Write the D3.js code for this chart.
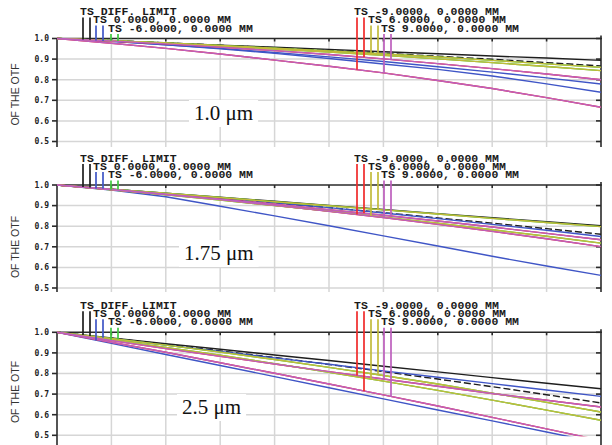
<!DOCTYPE html>
<html>
<head>
<meta charset="utf-8">
<script src="https://cdn.jsdelivr.net/npm/d3@7/dist/d3.min.js"></script>
<style>
  html, body { margin: 0; padding: 0; background: #fff; }
  svg { display: block; }
</style>
</head>
<body>
<svg id="chart" width="612" height="445"></svg>
<script>
// Field points of the MTF plots, in drawing order
const fieldNames = ["DIFF. LIMIT", "0.0000, 0.0000 MM", "-6.0000, 0.0000 MM",
                    "-9.0000, 0.0000 MM", "6.0000, 0.0000 MM", "9.0000, 0.0000 MM"];
const fieldColors = ["#1e1e1e", "#3f55c6", "#3fc83f", "#f02a2a", "#c2bb3a", "#bd5fbd"];
const sagDash = ["7,3", null, null, null, null, null];

// Spatial frequency samples (grid divisions) and modulus tick labels
const freqSteps = [0, 1, 2, 3, 4, 5, 6, 7, 8, 9, 10];
const modTicks = [0.5, 0.6, 0.7, 0.8, 0.9, 1.0];
const wavelengths = ["1.0 \u03bcm", "1.75 \u03bcm", "2.5 \u03bcm"];

// Modulus of the OTF, tangential and sagittal, one row per field
const tan10 = [
  [1, .989, .979, .968, .958, .947, .936, .926, .915, .905, .894],
  [1, .986, .969, .950, .928, .903, .876, .850, .818, .780, .739],
  [1, .989, .977, .963, .949, .934, .918, .901, .883, .864, .844],
  [1, .977, .952, .925, .895, .865, .833, .796, .757, .713, .666],
  [1, .989, .977, .963, .949, .934, .918, .901, .883, .864, .844],
  [1, .977, .952, .925, .895, .865, .833, .796, .757, .713, .666]
];
const sag10 = [
  [1, .990, .979, .967, .955, .942, .928, .914, .899, .883, .867],
  [1, .986, .970, .952, .932, .911, .888, .863, .837, .809, .779],
  [1, .989, .978, .966, .953, .939, .925, .910, .894, .877, .860],
  [1, .988, .974, .958, .941, .922, .901, .878, .854, .828, .800],
  [1, .989, .978, .966, .953, .939, .925, .910, .894, .877, .860],
  [1, .988, .974, .958, .941, .922, .901, .878, .854, .828, .800]
];
const tan175 = [
  [1, .980, .960, .941, .921, .901, .881, .861, .841, .822, .802],
  [1, .976, .943, .897, .850, .802, .753, .704, .654, .607, .561],
  [1, .977, .952, .927, .900, .873, .844, .814, .783, .751, .718],
  [1, .978, .954, .929, .901, .872, .842, .809, .775, .739, .701],
  [1, .977, .952, .927, .900, .873, .844, .814, .783, .751, .718],
  [1, .978, .954, .929, .901, .872, .842, .809, .775, .739, .701]
];
const sag175 = [
  [1, .979, .958, .936, .913, .890, .866, .840, .815, .788, .761],
  [1, .980, .959, .937, .914, .890, .864, .837, .809, .780, .750],
  [1, .980, .960, .939, .919, .899, .879, .859, .838, .818, .798],
  [1, .978, .955, .931, .907, .880, .853, .825, .796, .765, .734],
  [1, .980, .960, .939, .919, .899, .879, .859, .838, .818, .798],
  [1, .978, .955, .931, .907, .880, .853, .825, .796, .765, .734]
];
const tan25 = [
  [1, .973, .945, .918, .890, .863, .835, .808, .780, .753, .726],
  [1, .946, .892, .839, .785, .731, .677, .623, .570, .516, .462],
  [1, .964, .927, .889, .848, .806, .763, .718, .671, .622, .573],
  [1, .960, .921, .883, .846, .809, .773, .738, .703, .670, .637],
  [1, .964, .927, .889, .848, .806, .763, .718, .671, .622, .573],
  [1, .960, .921, .883, .846, .809, .773, .738, .703, .670, .637]
];
const sag25 = [
  [1, .971, .941, .910, .878, .844, .809, .773, .736, .697, .657],
  [1, .969, .938, .907, .876, .845, .813, .782, .751, .720, .689],
  [1, .970, .938, .904, .868, .830, .790, .749, .705, .660, .613],
  [1, .952, .903, .852, .801, .749, .696, .642, .587, .531, .475],
  [1, .970, .938, .904, .868, .830, .790, .749, .705, .660, .613],
  [1, .952, .903, .852, .801, .749, .696, .642, .587, .531, .475]
];

const panels = [
  { label: wavelengths[0], tan: tan10,  sag: sag10 },
  { label: wavelengths[1], tan: tan175, sag: sag175 },
  { label: wavelengths[2], tan: tan25,  sag: sag25 }
];

// Layout
const plotLeft = 57, plotRight = 601, plotH = 103;
const panelTop = [38.5, 185, 332.3];
const panelBottom = [147, 292, 445];
const labelPos = [[194, 120], [184, 260], [182, 414]];
const titleY = [94.5, 247, 392];
const legendX = [80, 93, 108, 354, 368, 381];
const legendRowDy = [-23.5, -15.5, -7];

const svg = d3.select("#chart");
svg.append("rect").attr("width", 612).attr("height", 445).attr("fill", "#fff");

const x = d3.scaleLinear().domain([0, 10]).range([plotLeft, plotRight]);

function valueAt(arr, u) {
  const i = Math.min(Math.floor(u), arr.length - 2);
  const t = u - i;
  return arr[i] + (arr[i + 1] - arr[i]) * t;
}

panels.forEach((p, pi) => {
  const top = panelTop[pi], bottom = panelBottom[pi];
  const y = d3.scaleLinear().domain([0.5, 1.0]).range([top + plotH, top]);
  const g = svg.append("g");

  const clipId = "clip" + pi;
  svg.append("clipPath").attr("id", clipId).append("rect")
    .attr("x", plotLeft).attr("y", top - 2)
    .attr("width", plotRight - plotLeft).attr("height", y(0.495) - top + 2);

  // grid
  const grid = g.append("g").attr("stroke", "#d6d6d6").attr("stroke-width", 1.5);
  grid.selectAll("line.v").data(freqSteps.slice(1, -1)).join("line")
    .attr("x1", d => x(d)).attr("x2", d => x(d))
    .attr("y1", top).attr("y2", bottom);
  grid.selectAll("line.h").data(modTicks.slice(0, -1)).join("line")
    .attr("x1", plotLeft).attr("x2", plotRight)
    .attr("y1", d => y(d)).attr("y2", d => y(d));

  // frame and ticks
  const frame = g.append("g").attr("stroke", "#2a2a2a").attr("stroke-width", 1.6);
  frame.append("line").attr("x1", plotLeft).attr("x2", plotRight + 1).attr("y1", top).attr("y2", top);
  frame.append("line").attr("x1", plotLeft).attr("x2", plotLeft).attr("y1", top).attr("y2", bottom);
  frame.append("line").attr("x1", plotRight).attr("x2", plotRight).attr("y1", top - 3).attr("y2", bottom);
  frame.selectAll("line.lt").data(modTicks).join("line")
    .attr("x1", plotLeft - 5).attr("x2", plotLeft)
    .attr("y1", d => y(d)).attr("y2", d => y(d));
  frame.selectAll("line.rt").data(modTicks).join("line")
    .attr("x1", plotRight - 5).attr("x2", plotRight)
    .attr("y1", d => y(d)).attr("y2", d => y(d));
  frame.selectAll("line.tt").data(freqSteps.slice(1, -1)).join("line")
    .attr("x1", d => x(d)).attr("x2", d => x(d))
    .attr("y1", top).attr("y2", top + 3);

  // tick labels
  g.selectAll("text.yl").data(modTicks).join("text")
    .attr("x", 49).attr("y", d => y(d)).attr("dy", "0.35em")
    .attr("text-anchor", "end")
    .attr("font-family", "DejaVu Sans Mono, monospace")
    .attr("font-weight", "bold").attr("font-size", 8)
    .attr("fill", "#222")
    .text(d => d.toFixed(1));

  // axis title
  g.append("text")
    .attr("transform", `translate(19,${titleY[pi]}) rotate(-90)`)
    .attr("text-anchor", "middle")
    .attr("font-family", "Liberation Sans, Arial, sans-serif")
    .attr("font-size", 10.5).attr("fill", "#333")
    .text("OF THE OTF");

  // curves
  const line = d3.line().x((d, i) => x(freqSteps[i])).y(d => y(d));
  const curves = g.append("g").attr("clip-path", `url(#${clipId})`).attr("fill", "none");
  fieldNames.forEach((f, fi) => {
    curves.append("path").attr("d", line(p.tan[fi]))
      .attr("stroke", fieldColors[fi]).attr("stroke-width", 1.4);
    curves.append("path").attr("d", line(p.sag[fi]))
      .attr("stroke", fieldColors[fi]).attr("stroke-width", 1.4)
      .attr("stroke-dasharray", sagDash[fi]);
  });

  // wavelength label on a white patch
  const lab = g.append("text")
    .attr("x", labelPos[pi][0]).attr("y", labelPos[pi][1])
    .attr("font-family", "Liberation Serif, Times New Roman, serif")
    .attr("font-size", 21).attr("fill", "#111")
    .text(p.label);
  const bb = lab.node().getBBox();
  g.insert("rect", () => lab.node())
    .attr("x", bb.x - 5).attr("y", labelPos[pi][1] - 20)
    .attr("width", bb.width + 10).attr("height", 27)
    .attr("fill", "#fff");

  // legend with T/S markers dropping to the curves
  fieldNames.forEach((f, fi) => {
    const tx = legendX[fi], ty = top + legendRowDy[fi % 3];
    g.append("text").attr("x", tx).attr("y", ty)
      .attr("font-family", "Liberation Mono, monospace")
      .attr("font-weight", "bold")
      .attr("font-size", 11.5).attr("fill", "#1a1a1a")
      .text("TS " + f);
    [[p.tan[fi], 3], [p.sag[fi], 10]].forEach(([arr, off]) => {
      const mx = tx + off;
      g.append("line")
        .attr("x1", mx).attr("x2", mx)
        .attr("y1", ty + 2.5).attr("y2", y(valueAt(arr, x.invert(mx))))
        .attr("stroke", fieldColors[fi]).attr("stroke-width", 1.7);
    });
  });
});
</script>
</body>
</html>
